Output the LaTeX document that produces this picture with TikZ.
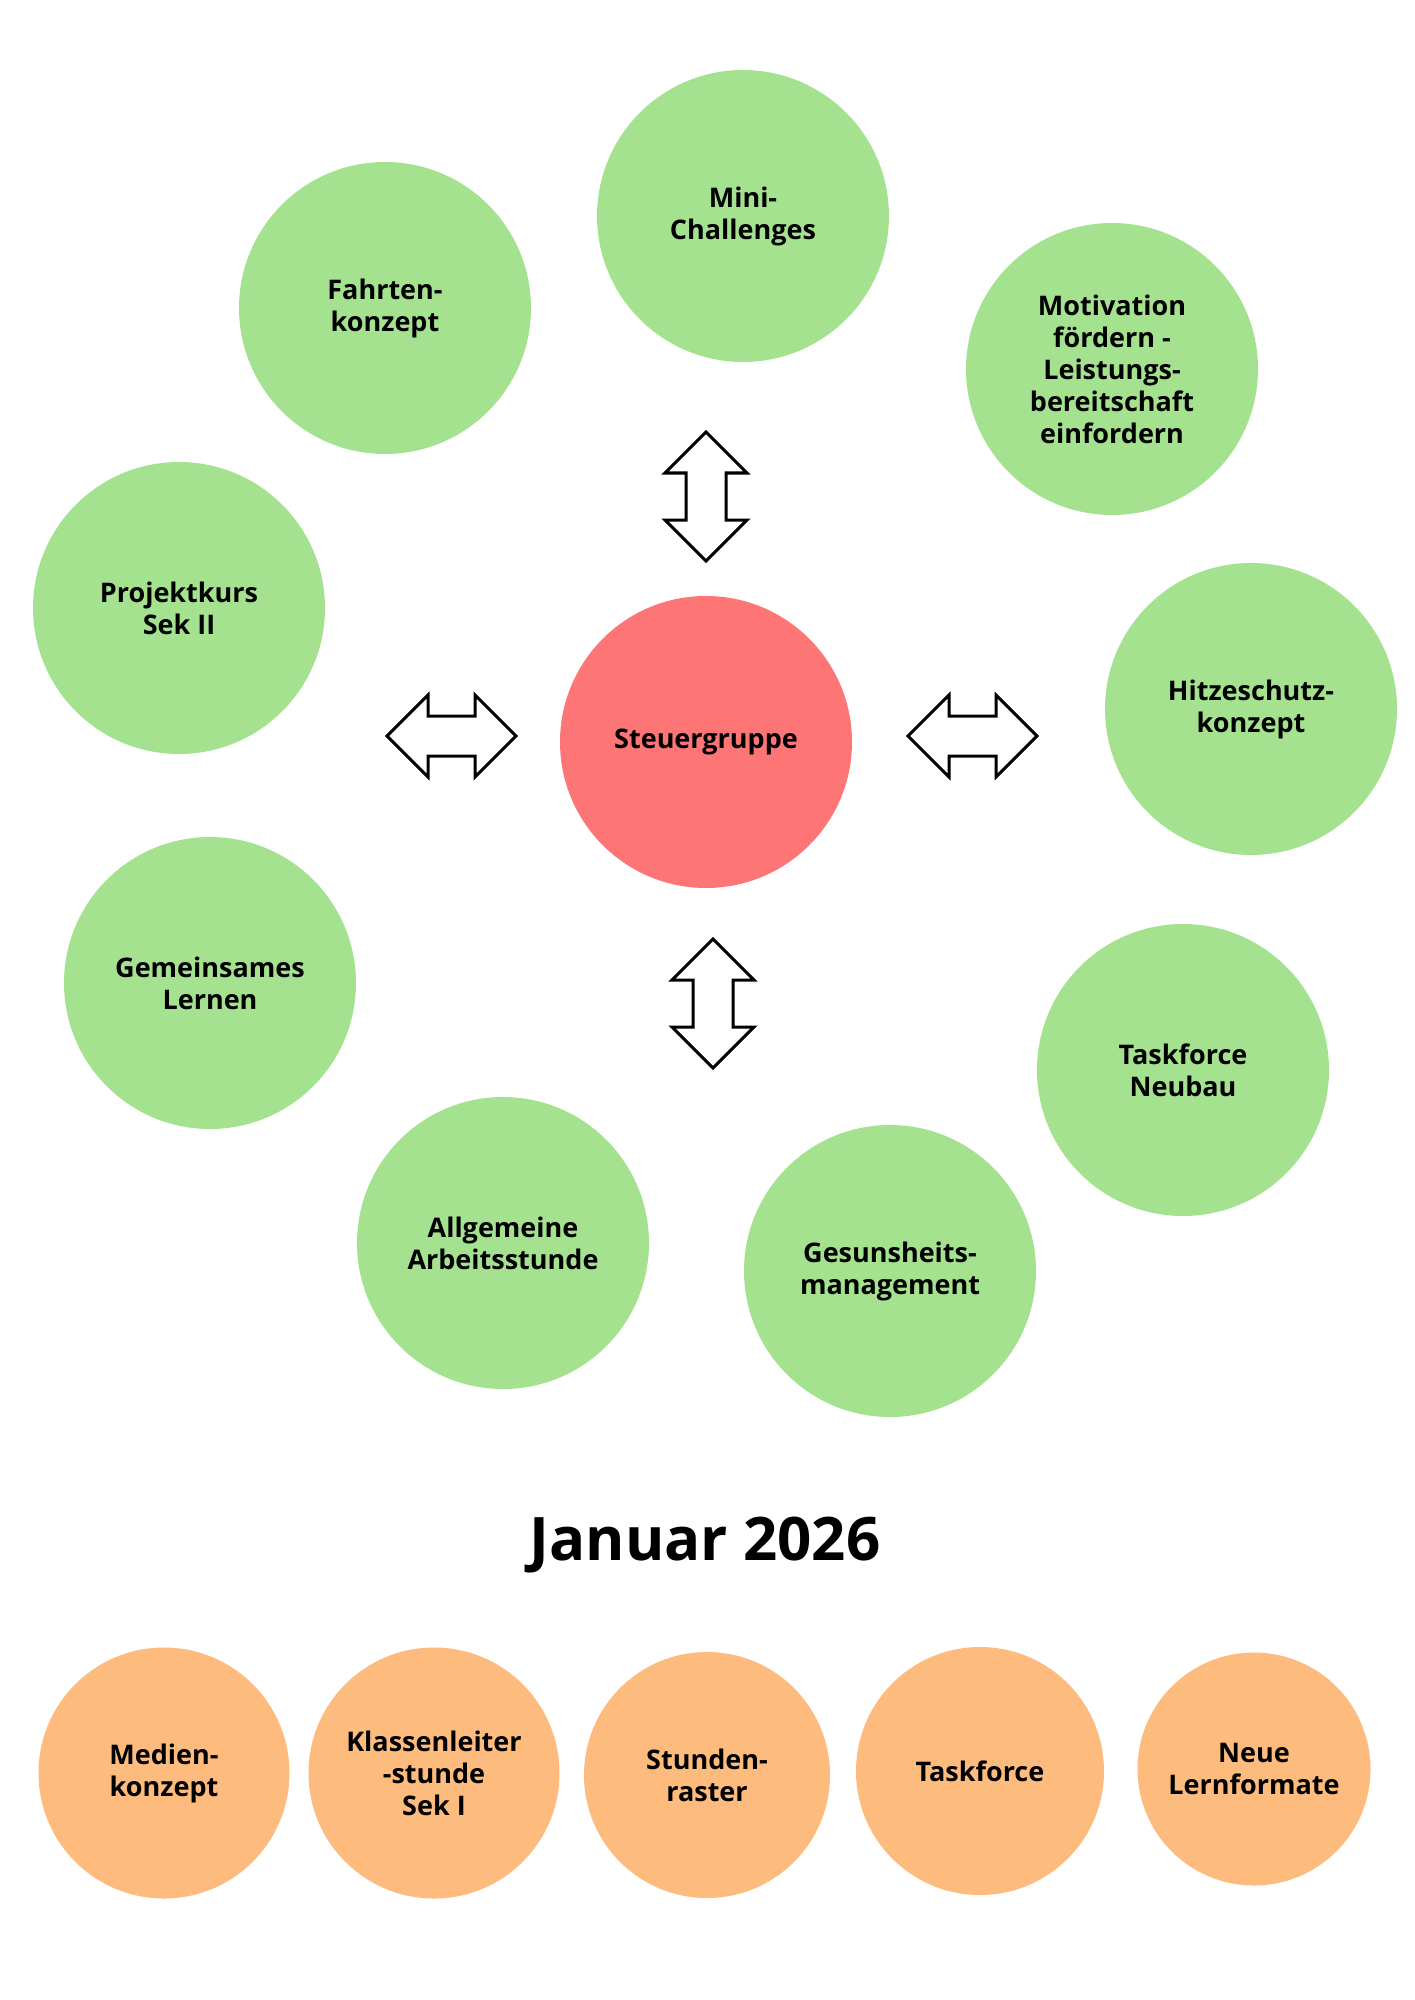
\documentclass[tikz,border=0pt]{standalone}
\usepackage{fontspec}
\setmainfont{Open Sans}

\definecolor{topicgreen}{HTML}{A5E290}
\definecolor{steerred}{HTML}{FE7575}
\definecolor{laterorange}{HTML}{FDBB7D}

\tikzset{
  topic/.style={circle, fill=topicgreen, minimum size=146pt, inner sep=0pt,
    align=center, font=\fontsize{13.5}{16}\selectfont\bfseries},
  later/.style={topic, fill=laterorange},
  dblarrow/.pic={
    \draw[line width=1.5pt, fill=white, line join=miter]
    (-64.5, 0) -- (-23.5, 41) -- (-23.5, 20) -- (23.5, 20) --
    (23.5, 41) -- (64.5, 0) -- (23.5, -41) -- (23.5, -20) --
    (-23.5, -20) -- (-23.5, -41) -- cycle;
  }
}

\begin{document}
\begin{tikzpicture}[x=0.5pt, y=-0.5pt]
    \useasboundingbox (0, 0) rectangle (1414, 2000);
    % centre
    \node[topic, fill=steerred] (steuer) at (706, 742) {Steuergruppe};
    % ring of working groups
    \node[topic] (mini) at (743, 216) {Mini-\\Challenges};
    \node[topic] (fahrten) at (385, 308) {Fahrten-\\konzept};
    \node[topic] (motivation) at (1112, 369) {Motivation\\fördern -\\Leistungs-\\bereitschaft\\einfordern};
    \node[topic] (projekt) at (179, 608) {Projektkurs\\Sek II};
    \node[topic] (hitze) at (1251, 709) {Hitzeschutz-\\konzept};
    \node[topic] (lernen) at (210, 983) {Gemeinsames\\Lernen};
    \node[topic] (neubau) at (1183, 1070) {Taskforce\\Neubau};
    \node[topic] (arbeit) at (503, 1243) {Allgemeine\\Arbeitsstunde};
    \node[topic] (gesund) at (890, 1271) {Gesunsheits-\\management};
    % arrows round the centre
    \pic at (451.5, 736) {dblarrow};
    \pic at (972.5, 736) {dblarrow};
    \pic[rotate=90] at (706, 496.5) {dblarrow};
    \pic[rotate=90] at (713, 1003.5) {dblarrow};
    % January
    \node[anchor=base, font=\fontsize{30}{36}\selectfont\bfseries] (januar)
    at (705, 1560) {Januar 2026};
    \node[later, minimum size=125.5pt] (medien) at (164, 1773) {Medien-\\konzept};
    \node[later, minimum size=125.5pt] (klasse) at (434, 1773) {Klassenleiter\\-stunde\\Sek I};
    \node[later, minimum size=123pt] (raster) at (707, 1775) {Stunden-\\raster};
    \node[later, minimum size=124pt] (task) at (980, 1771) {Taskforce};
    \node[later, minimum size=116.5pt] (formate) at (1254, 1769) {Neue\\Lernformate};
  \end{tikzpicture}
\end{document}
